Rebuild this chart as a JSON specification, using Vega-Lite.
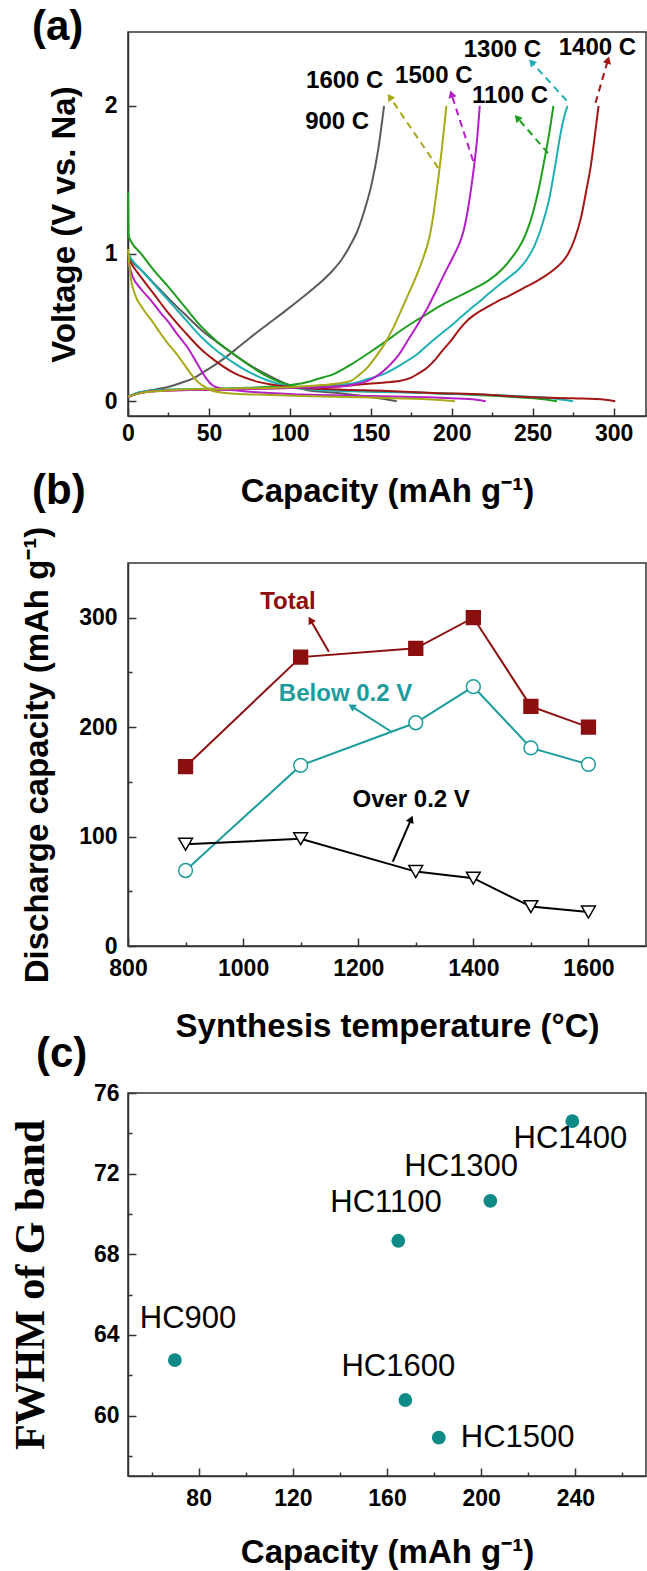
{
  "$schema": "https://vega.github.io/schema/vega-lite/v6.json",
  "background": "white",
  "padding": {"left": 8, "top": 5, "right": 0, "bottom": 5},
  "spacing": 147,
  "bounds": "flush",
  "resolve": {"scale": {"color": "independent", "stroke": "independent", "fill": "independent", "shape": "independent"}},
  "config": {
    "view": {"stroke": "#333333", "strokeWidth": 1.5},
    "font": "Liberation Sans",
    "axis": {"grid": false, "domainColor": "#333333", "domainWidth": 1.5, "tickColor": "#333333", "tickWidth": 1.5, "labelFont": "Liberation Sans", "labelFontSize": 23, "labelFontWeight": "bold", "labelColor": "#000000", "titleFont": "Liberation Sans", "titleFontSize": 33, "titleFontWeight": "bold", "titleColor": "#000000", "labelFlush": false, "labelOverlap": false, "labelBound": false},
    "title": {"font": "Liberation Sans", "fontSize": 42, "fontWeight": "bold", "color": "#000000", "anchor": "start", "frame": "group"}
  },
  "datasets": {
    "curves": [
      {"s":"900","b":"d","x":0,"y":0.98},{"s":"900","b":"d","x":2,"y":0.95},{"s":"900","b":"d","x":8,"y":0.89},{"s":"900","b":"d","x":15,"y":0.81},{"s":"900","b":"d","x":24.7,"y":0.7},{"s":"900","b":"d","x":35,"y":0.59},{"s":"900","b":"d","x":45.3,"y":0.483},{"s":"900","b":"d","x":55,"y":0.4},{"s":"900","b":"d","x":66,"y":0.313},{"s":"900","b":"d","x":76,"y":0.24},{"s":"900","b":"d","x":86.5,"y":0.177},{"s":"900","b":"d","x":100,"y":0.108},{"s":"900","b":"d","x":111,"y":0.074},{"s":"900","b":"d","x":128,"y":0.058},{"s":"900","b":"d","x":148,"y":0.03},{"s":"900","b":"d","x":160,"y":0.012},{"s":"900","b":"d","x":166,"y":0.0},
      {"s":"900","b":"c","x":0,"y":0.028},{"s":"900","b":"c","x":5,"y":0.05},{"s":"900","b":"c","x":12,"y":0.07},{"s":"900","b":"c","x":24.7,"y":0.096},{"s":"900","b":"c","x":33,"y":0.125},{"s":"900","b":"c","x":41.2,"y":0.16},{"s":"900","b":"c","x":47,"y":0.2},{"s":"900","b":"c","x":53.5,"y":0.244},{"s":"900","b":"c","x":60,"y":0.295},{"s":"900","b":"c","x":66,"y":0.346},{"s":"900","b":"c","x":76,"y":0.435},{"s":"900","b":"c","x":86.5,"y":0.523},{"s":"900","b":"c","x":97,"y":0.61},{"s":"900","b":"c","x":107.1,"y":0.697},{"s":"900","b":"c","x":119.5,"y":0.81},{"s":"900","b":"c","x":126,"y":0.88},{"s":"900","b":"c","x":131.9,"y":0.958},{"s":"900","b":"c","x":137,"y":1.05},{"s":"900","b":"c","x":141.2,"y":1.139},{"s":"900","b":"c","x":146,"y":1.29},{"s":"900","b":"c","x":150.5,"y":1.47},{"s":"900","b":"c","x":154.5,"y":1.7},{"s":"900","b":"c","x":158.2,"y":2.0},
      {"s":"1100","b":"d","x":0,"y":1.42},{"s":"1100","b":"d","x":0.4,"y":1.12},{"s":"1100","b":"d","x":2,"y":1.08},{"s":"1100","b":"d","x":8,"y":1.0},{"s":"1100","b":"d","x":15,"y":0.9},{"s":"1100","b":"d","x":24.7,"y":0.777},{"s":"1100","b":"d","x":35,"y":0.64},{"s":"1100","b":"d","x":45.3,"y":0.505},{"s":"1100","b":"d","x":55,"y":0.405},{"s":"1100","b":"d","x":66,"y":0.313},{"s":"1100","b":"d","x":76,"y":0.235},{"s":"1100","b":"d","x":86.5,"y":0.165},{"s":"1100","b":"d","x":100,"y":0.108},{"s":"1100","b":"d","x":110,"y":0.09},{"s":"1100","b":"d","x":128,"y":0.074},{"s":"1100","b":"d","x":169,"y":0.062},{"s":"1100","b":"d","x":210,"y":0.045},{"s":"1100","b":"d","x":236,"y":0.03},{"s":"1100","b":"d","x":255,"y":0.015},{"s":"1100","b":"d","x":265,"y":0.0},
      {"s":"1100","b":"c","x":0,"y":0.03},{"s":"1100","b":"c","x":4,"y":0.05},{"s":"1100","b":"c","x":10,"y":0.065},{"s":"1100","b":"c","x":20,"y":0.075},{"s":"1100","b":"c","x":30,"y":0.08},{"s":"1100","b":"c","x":50,"y":0.085},{"s":"1100","b":"c","x":70,"y":0.09},{"s":"1100","b":"c","x":90,"y":0.1},{"s":"1100","b":"c","x":100,"y":0.11},{"s":"1100","b":"c","x":107,"y":0.12},{"s":"1100","b":"c","x":117,"y":0.15},{"s":"1100","b":"c","x":127.7,"y":0.187},{"s":"1100","b":"c","x":138,"y":0.25},{"s":"1100","b":"c","x":148.3,"y":0.323},{"s":"1100","b":"c","x":158.6,"y":0.4},{"s":"1100","b":"c","x":169,"y":0.482},{"s":"1100","b":"c","x":177,"y":0.54},{"s":"1100","b":"c","x":185.4,"y":0.595},{"s":"1100","b":"c","x":192,"y":0.64},{"s":"1100","b":"c","x":199.8,"y":0.686},{"s":"1100","b":"c","x":208,"y":0.73},{"s":"1100","b":"c","x":216.3,"y":0.777},{"s":"1100","b":"c","x":223,"y":0.82},{"s":"1100","b":"c","x":230.8,"y":0.89},{"s":"1100","b":"c","x":237,"y":0.97},{"s":"1100","b":"c","x":243.1,"y":1.071},{"s":"1100","b":"c","x":246,"y":1.14},{"s":"1100","b":"c","x":250,"y":1.27},{"s":"1100","b":"c","x":254,"y":1.45},{"s":"1100","b":"c","x":257,"y":1.62},{"s":"1100","b":"c","x":260,"y":1.8},{"s":"1100","b":"c","x":262.8,"y":2.0},
      {"s":"1300","b":"d","x":0,"y":1.0},{"s":"1300","b":"d","x":2,"y":0.965},{"s":"1300","b":"d","x":8,"y":0.89},{"s":"1300","b":"d","x":15,"y":0.805},{"s":"1300","b":"d","x":24.7,"y":0.686},{"s":"1300","b":"d","x":35,"y":0.56},{"s":"1300","b":"d","x":45.3,"y":0.435},{"s":"1300","b":"d","x":55,"y":0.34},{"s":"1300","b":"d","x":66,"y":0.255},{"s":"1300","b":"d","x":76,"y":0.19},{"s":"1300","b":"d","x":86.5,"y":0.14},{"s":"1300","b":"d","x":100,"y":0.097},{"s":"1300","b":"d","x":120,"y":0.075},{"s":"1300","b":"d","x":150,"y":0.065},{"s":"1300","b":"d","x":200,"y":0.05},{"s":"1300","b":"d","x":240,"y":0.035},{"s":"1300","b":"d","x":262,"y":0.02},{"s":"1300","b":"d","x":275,"y":0.0},
      {"s":"1300","b":"c","x":0,"y":0.03},{"s":"1300","b":"c","x":4,"y":0.05},{"s":"1300","b":"c","x":10,"y":0.065},{"s":"1300","b":"c","x":20,"y":0.075},{"s":"1300","b":"c","x":30,"y":0.08},{"s":"1300","b":"c","x":60,"y":0.085},{"s":"1300","b":"c","x":100,"y":0.095},{"s":"1300","b":"c","x":120,"y":0.105},{"s":"1300","b":"c","x":138,"y":0.12},{"s":"1300","b":"c","x":148,"y":0.15},{"s":"1300","b":"c","x":158.6,"y":0.187},{"s":"1300","b":"c","x":169,"y":0.25},{"s":"1300","b":"c","x":179.2,"y":0.323},{"s":"1300","b":"c","x":186,"y":0.39},{"s":"1300","b":"c","x":193.7,"y":0.46},{"s":"1300","b":"c","x":200,"y":0.515},{"s":"1300","b":"c","x":206,"y":0.573},{"s":"1300","b":"c","x":212,"y":0.63},{"s":"1300","b":"c","x":218.4,"y":0.686},{"s":"1300","b":"c","x":224,"y":0.74},{"s":"1300","b":"c","x":230.8,"y":0.8},{"s":"1300","b":"c","x":236,"y":0.845},{"s":"1300","b":"c","x":241.1,"y":0.89},{"s":"1300","b":"c","x":246.2,"y":0.958},{"s":"1300","b":"c","x":251,"y":1.05},{"s":"1300","b":"c","x":256,"y":1.2},{"s":"1300","b":"c","x":260,"y":1.36},{"s":"1300","b":"c","x":264,"y":1.6},{"s":"1300","b":"c","x":267,"y":1.8},{"s":"1300","b":"c","x":269.3,"y":1.92},{"s":"1300","b":"c","x":271.5,"y":2.0},
      {"s":"1400","b":"d","x":0,"y":0.96},{"s":"1400","b":"d","x":2,"y":0.93},{"s":"1400","b":"d","x":8,"y":0.84},{"s":"1400","b":"d","x":15,"y":0.74},{"s":"1400","b":"d","x":24.7,"y":0.6},{"s":"1400","b":"d","x":35,"y":0.47},{"s":"1400","b":"d","x":45.3,"y":0.35},{"s":"1400","b":"d","x":55,"y":0.265},{"s":"1400","b":"d","x":66,"y":0.188},{"s":"1400","b":"d","x":80.4,"y":0.131},{"s":"1400","b":"d","x":100,"y":0.097},{"s":"1400","b":"d","x":130,"y":0.08},{"s":"1400","b":"d","x":160,"y":0.07},{"s":"1400","b":"d","x":189,"y":0.056},{"s":"1400","b":"d","x":220,"y":0.045},{"s":"1400","b":"d","x":243,"y":0.03},{"s":"1400","b":"d","x":275,"y":0.02},{"s":"1400","b":"d","x":295,"y":0.01},{"s":"1400","b":"d","x":301,"y":0.0},
      {"s":"1400","b":"c","x":0,"y":0.03},{"s":"1400","b":"c","x":4,"y":0.045},{"s":"1400","b":"c","x":10,"y":0.06},{"s":"1400","b":"c","x":20,"y":0.07},{"s":"1400","b":"c","x":30,"y":0.075},{"s":"1400","b":"c","x":60,"y":0.08},{"s":"1400","b":"c","x":100,"y":0.09},{"s":"1400","b":"c","x":130,"y":0.1},{"s":"1400","b":"c","x":148.3,"y":0.119},{"s":"1400","b":"c","x":160,"y":0.128},{"s":"1400","b":"c","x":169,"y":0.14},{"s":"1400","b":"c","x":175,"y":0.16},{"s":"1400","b":"c","x":179.2,"y":0.187},{"s":"1400","b":"c","x":184,"y":0.22},{"s":"1400","b":"c","x":189.5,"y":0.278},{"s":"1400","b":"c","x":194,"y":0.34},{"s":"1400","b":"c","x":199.8,"y":0.414},{"s":"1400","b":"c","x":205,"y":0.49},{"s":"1400","b":"c","x":210,"y":0.55},{"s":"1400","b":"c","x":216,"y":0.6},{"s":"1400","b":"c","x":222.4,"y":0.64},{"s":"1400","b":"c","x":228,"y":0.675},{"s":"1400","b":"c","x":234.8,"y":0.71},{"s":"1400","b":"c","x":240,"y":0.74},{"s":"1400","b":"c","x":246.2,"y":0.777},{"s":"1400","b":"c","x":252,"y":0.81},{"s":"1400","b":"c","x":258,"y":0.85},{"s":"1400","b":"c","x":263,"y":0.89},{"s":"1400","b":"c","x":268,"y":0.94},{"s":"1400","b":"c","x":272,"y":1.0},{"s":"1400","b":"c","x":276,"y":1.1},{"s":"1400","b":"c","x":280,"y":1.25},{"s":"1400","b":"c","x":283,"y":1.42},{"s":"1400","b":"c","x":286,"y":1.6},{"s":"1400","b":"c","x":288.3,"y":1.79},{"s":"1400","b":"c","x":290.7,"y":2.0},
      {"s":"1500","b":"d","x":0,"y":0.95},{"s":"1500","b":"d","x":3,"y":0.84},{"s":"1500","b":"d","x":8,"y":0.76},{"s":"1500","b":"d","x":14.4,"y":0.68},{"s":"1500","b":"d","x":20,"y":0.6},{"s":"1500","b":"d","x":24.7,"y":0.54},{"s":"1500","b":"d","x":30,"y":0.46},{"s":"1500","b":"d","x":37,"y":0.36},{"s":"1500","b":"d","x":43,"y":0.25},{"s":"1500","b":"d","x":48,"y":0.16},{"s":"1500","b":"d","x":52,"y":0.11},{"s":"1500","b":"d","x":58,"y":0.085},{"s":"1500","b":"d","x":66,"y":0.074},{"s":"1500","b":"d","x":80,"y":0.06},{"s":"1500","b":"d","x":107,"y":0.045},{"s":"1500","b":"d","x":150,"y":0.035},{"s":"1500","b":"d","x":200,"y":0.02},{"s":"1500","b":"d","x":215,"y":0.01},{"s":"1500","b":"d","x":221,"y":0.0},
      {"s":"1500","b":"c","x":0,"y":0.03},{"s":"1500","b":"c","x":4,"y":0.045},{"s":"1500","b":"c","x":10,"y":0.06},{"s":"1500","b":"c","x":20,"y":0.07},{"s":"1500","b":"c","x":30,"y":0.075},{"s":"1500","b":"c","x":60,"y":0.08},{"s":"1500","b":"c","x":100,"y":0.09},{"s":"1500","b":"c","x":130,"y":0.1},{"s":"1500","b":"c","x":140,"y":0.115},{"s":"1500","b":"c","x":148.3,"y":0.14},{"s":"1500","b":"c","x":155,"y":0.18},{"s":"1500","b":"c","x":160.7,"y":0.233},{"s":"1500","b":"c","x":167,"y":0.31},{"s":"1500","b":"c","x":173,"y":0.414},{"s":"1500","b":"c","x":179,"y":0.52},{"s":"1500","b":"c","x":185.4,"y":0.64},{"s":"1500","b":"c","x":190,"y":0.74},{"s":"1500","b":"c","x":195.7,"y":0.867},{"s":"1500","b":"c","x":200,"y":0.96},{"s":"1500","b":"c","x":204,"y":1.05},{"s":"1500","b":"c","x":207,"y":1.14},{"s":"1500","b":"c","x":210,"y":1.3},{"s":"1500","b":"c","x":212.2,"y":1.46},{"s":"1500","b":"c","x":214,"y":1.61},{"s":"1500","b":"c","x":215.7,"y":1.78},{"s":"1500","b":"c","x":217.3,"y":2.0},
      {"s":"1600","b":"d","x":0,"y":1.03},{"s":"1600","b":"d","x":1.5,"y":0.85},{"s":"1600","b":"d","x":4.1,"y":0.73},{"s":"1600","b":"d","x":9,"y":0.63},{"s":"1600","b":"d","x":14.4,"y":0.55},{"s":"1600","b":"d","x":20,"y":0.46},{"s":"1600","b":"d","x":24.7,"y":0.39},{"s":"1600","b":"d","x":30,"y":0.32},{"s":"1600","b":"d","x":35,"y":0.244},{"s":"1600","b":"d","x":40,"y":0.17},{"s":"1600","b":"d","x":43.2,"y":0.13},{"s":"1600","b":"d","x":47,"y":0.1},{"s":"1600","b":"d","x":51.5,"y":0.073},{"s":"1600","b":"d","x":66,"y":0.05},{"s":"1600","b":"d","x":80,"y":0.045},{"s":"1600","b":"d","x":107,"y":0.035},{"s":"1600","b":"d","x":150,"y":0.025},{"s":"1600","b":"d","x":190,"y":0.01},{"s":"1600","b":"d","x":202,"y":0.0},
      {"s":"1600","b":"c","x":0,"y":0.03},{"s":"1600","b":"c","x":4,"y":0.045},{"s":"1600","b":"c","x":10,"y":0.06},{"s":"1600","b":"c","x":20,"y":0.07},{"s":"1600","b":"c","x":30,"y":0.078},{"s":"1600","b":"c","x":60,"y":0.085},{"s":"1600","b":"c","x":100,"y":0.095},{"s":"1600","b":"c","x":120,"y":0.11},{"s":"1600","b":"c","x":130,"y":0.12},{"s":"1600","b":"c","x":138,"y":0.14},{"s":"1600","b":"c","x":143,"y":0.18},{"s":"1600","b":"c","x":148.3,"y":0.233},{"s":"1600","b":"c","x":153,"y":0.3},{"s":"1600","b":"c","x":158.6,"y":0.39},{"s":"1600","b":"c","x":164,"y":0.5},{"s":"1600","b":"c","x":168.9,"y":0.618},{"s":"1600","b":"c","x":173,"y":0.72},{"s":"1600","b":"c","x":177.1,"y":0.822},{"s":"1600","b":"c","x":180,"y":0.9},{"s":"1600","b":"c","x":183.3,"y":1.0},{"s":"1600","b":"c","x":186,"y":1.1},{"s":"1600","b":"c","x":188.5,"y":1.25},{"s":"1600","b":"c","x":191,"y":1.45},{"s":"1600","b":"c","x":193.8,"y":1.7},{"s":"1600","b":"c","x":196.7,"y":2.0}
    ],
    "arrows_a": [
      {"s":"1600","x":191.6,"y":1.58,"x2":161.7,"y2":2.06},
      {"s":"1500","x":213.2,"y":1.627,"x2":199.8,"y2":2.08},
      {"s":"1100","x":259.5,"y":1.68,"x2":240.4,"y2":1.92},
      {"s":"1300","x":271,"y":2.035,"x2":249.3,"y2":2.296},
      {"s":"1400","x":288.8,"y":2.02,"x2":296.5,"y2":2.31}
    ],
    "labels_a": [
      {"t":"900 C","x":129.2,"y":1.888},
      {"t":"1600 C","x":133.9,"y":2.17},
      {"t":"1500 C","x":188.9,"y":2.205},
      {"t":"1100 C","x":236,"y":2.07},
      {"t":"1300 C","x":231.3,"y":2.375},
      {"t":"1400 C","x":290,"y":2.39}
    ],
    "series_b": [
      {"g":"Total","T":900,"c":164},{"g":"Total","T":1100,"c":264},{"g":"Total","T":1300,"c":272},{"g":"Total","T":1400,"c":300},{"g":"Total","T":1500,"c":219},{"g":"Total","T":1600,"c":200},
      {"g":"Below 0.2 V","T":900,"c":69},{"g":"Below 0.2 V","T":1100,"c":165},{"g":"Below 0.2 V","T":1300,"c":204},{"g":"Below 0.2 V","T":1400,"c":237},{"g":"Below 0.2 V","T":1500,"c":181},{"g":"Below 0.2 V","T":1600,"c":166},
      {"g":"Over 0.2 V","T":900,"c":93},{"g":"Over 0.2 V","T":1100,"c":98},{"g":"Over 0.2 V","T":1300,"c":68},{"g":"Over 0.2 V","T":1400,"c":62},{"g":"Over 0.2 V","T":1500,"c":36},{"g":"Over 0.2 V","T":1600,"c":31}
    ],
    "arrows_b": [
      {"g":"Total","T":1149,"c":269,"T2":1117,"c2":298},
      {"g":"Below 0.2 V","T":1257,"c":196,"T2":1188.5,"c2":219},
      {"g":"Over 0.2 V","T":1260,"c":77,"T2":1292,"c2":116}
    ],
    "labels_b": [
      {"g":"Total","T":1078,"c":314},
      {"g":"Below 0.2 V","T":1178,"c":230},
      {"g":"Over 0.2 V","T":1292,"c":133}
    ],
    "pts_c": [
      {"lab":"HC900","cap":69.9,"fw":62.75},
      {"lab":"HC1100","cap":164.8,"fw":68.67},
      {"lab":"HC1300","cap":203.9,"fw":70.65},
      {"lab":"HC1400","cap":238.7,"fw":74.6},
      {"lab":"HC1500","cap":182,"fw":58.9},
      {"lab":"HC1600","cap":167.8,"fw":60.77}
    ],
    "labels_c": [
      {"lab":"HC900","cap":75.5,"fw":64.78},
      {"lab":"HC1100","cap":159.6,"fw":70.55},
      {"lab":"HC1300","cap":191.5,"fw":72.34},
      {"lab":"HC1400","cap":237.9,"fw":73.7},
      {"lab":"HC1500","cap":215.5,"fw":58.9},
      {"lab":"HC1600","cap":164.8,"fw":62.4}
    ]
  },
  "vconcat": [
    {
      "width": 518, "height": 384,
      "title": {"text": "(a)", "dx": -96, "offset": -17},
      "layer": [
        {
          "data": {"name": "curves"},
          "mark": {"type": "line", "strokeWidth": 2, "interpolate": "monotone"},
          "encoding": {
            "x": {"field": "x", "type": "quantitative", "scale": {"domain": [0, 320], "nice": false, "zero": false},
                  "axis": {"values": [0,25,50,75,100,125,150,175,200,225,250,275,300], "labelExpr": "datum.value % 50 === 0 ? datum.label : ''", "tickSize": {"condition": {"test": "datum.value % 50 === 0", "value": -8}, "value": -4}, "labelPadding": 14, "title": "Capacity (mAh g⁻¹)", "titlePadding": 26}},
            "y": {"field": "y", "type": "quantitative", "scale": {"domain": [-0.1, 2.5], "nice": false, "zero": false},
                  "axis": {"values": [0,0.5,1,1.5,2], "format": "d", "labelExpr": "datum.value % 1 === 0 ? datum.label : ''", "tickSize": {"condition": {"test": "datum.value % 1 === 0", "value": -8}, "value": -4}, "labelPadding": 19, "title": "Voltage (V vs. Na)", "titlePadding": 23}},
            "color": {"field": "s", "type": "nominal", "scale": {"domain": ["900","1100","1300","1400","1500","1600"], "range": ["#5b5b5b","#1e9e1e","#1fb0b4","#a31616","#b51fc8","#a8a818"]}, "legend": null},
            "detail": {"field": "b"}
          }
        },
        {
          "data": {"name": "arrows_a"},
          "mark": {"type": "rule", "strokeWidth": 2, "strokeDash": [7, 5]},
          "encoding": {
            "x": {"field": "x", "type": "quantitative"},
            "y": {"field": "y", "type": "quantitative"},
            "x2": {"field": "x2"},
            "y2": {"field": "y2"},
            "color": {"field": "s", "type": "nominal"}
          }
        },
        {
          "data": {"name": "arrows_a"},
          "transform": [{"calculate": "atan2((datum.x2 - datum.x) * 518 / 320, (datum.y2 - datum.y) * 384 / 2.6) * 180 / PI", "as": "ang"}],
          "mark": {"type": "point", "shape": "triangle-up", "filled": true, "size": 70, "opacity": 1},
          "encoding": {
            "x": {"field": "x2", "type": "quantitative"},
            "y": {"field": "y2", "type": "quantitative"},
            "color": {"field": "s", "type": "nominal"},
            "angle": {"field": "ang", "type": "quantitative", "scale": null}
          }
        },
        {
          "data": {"name": "labels_a"},
          "mark": {"type": "text", "fontSize": 24, "fontWeight": "bold", "font": "Liberation Sans", "color": "#000000"},
          "encoding": {
            "x": {"field": "x", "type": "quantitative"},
            "y": {"field": "y", "type": "quantitative"},
            "text": {"field": "t"}
          }
        }
      ]
    },
    {
      "width": 518, "height": 383,
      "title": {"text": "(b)", "dx": -96, "offset": 13},
      "layer": [
        {
          "data": {"name": "series_b"},
          "mark": {"type": "line", "strokeWidth": 2},
          "encoding": {
            "x": {"field": "T", "type": "quantitative", "scale": {"domain": [800, 1700], "nice": false, "zero": false},
                  "axis": {"values": [800,900,1000,1100,1200,1300,1400,1500,1600], "format": "d", "labelExpr": "datum.value % 200 === 0 ? datum.label : ''", "tickSize": {"condition": {"test": "datum.value % 200 === 0", "value": -8}, "value": -4}, "labelPadding": 19, "title": "Synthesis temperature (°C)", "titlePadding": 26}},
            "y": {"field": "c", "type": "quantitative", "scale": {"domain": [0, 350], "nice": false, "zero": false},
                  "axis": {"values": [0,50,100,150,200,250,300], "labelExpr": "datum.value % 100 === 0 ? datum.label : ''", "tickSize": {"condition": {"test": "datum.value % 100 === 0", "value": -8}, "value": -4}, "labelPadding": 19, "title": "Discharge capacity (mAh g⁻¹)", "titlePadding": 24}},
            "stroke": {"field": "g", "type": "nominal", "scale": {"domain": ["Total","Below 0.2 V","Over 0.2 V"], "range": ["#8c0f0f","#1c9c9c","#000000"]}, "legend": null}
          }
        },
        {
          "data": {"name": "series_b"},
          "mark": {"type": "point", "filled": true, "size": 190, "strokeWidth": 1.5, "opacity": 1},
          "encoding": {
            "x": {"field": "T", "type": "quantitative"},
            "y": {"field": "c", "type": "quantitative"},
            "stroke": {"field": "g", "type": "nominal"},
            "fill": {"field": "g", "type": "nominal", "scale": {"domain": ["Total","Below 0.2 V","Over 0.2 V"], "range": ["#8c0f0f","#ffffff","#ffffff"]}, "legend": null},
            "shape": {"field": "g", "type": "nominal", "scale": {"domain": ["Total","Below 0.2 V","Over 0.2 V"], "range": ["square","circle","triangle-down"]}, "legend": null}
          }
        },
        {
          "data": {"name": "arrows_b"},
          "mark": {"type": "rule", "strokeWidth": 2},
          "encoding": {
            "x": {"field": "T", "type": "quantitative"},
            "y": {"field": "c", "type": "quantitative"},
            "x2": {"field": "T2"},
            "y2": {"field": "c2"},
            "stroke": {"field": "g", "type": "nominal"}
          }
        },
        {
          "data": {"name": "arrows_b"},
          "transform": [{"calculate": "atan2((datum.T2 - datum.T) * 518 / 900, (datum.c2 - datum.c) * 383 / 350) * 180 / PI", "as": "ang"}],
          "mark": {"type": "point", "shape": "triangle-up", "filled": true, "size": 70, "opacity": 1},
          "encoding": {
            "x": {"field": "T2", "type": "quantitative"},
            "y": {"field": "c2", "type": "quantitative"},
            "color": {"field": "g", "type": "nominal", "scale": {"domain": ["Total","Below 0.2 V","Over 0.2 V"], "range": ["#8c0f0f","#1c9c9c","#000000"]}, "legend": null},
            "angle": {"field": "ang", "type": "quantitative", "scale": null}
          }
        },
        {
          "data": {"name": "labels_b"},
          "mark": {"type": "text", "fontSize": 24, "fontWeight": "bold", "font": "Liberation Sans"},
          "encoding": {
            "x": {"field": "T", "type": "quantitative"},
            "y": {"field": "c", "type": "quantitative"},
            "text": {"field": "g"},
            "color": {"field": "g", "type": "nominal"}
          }
        }
      ]
    },
    {
      "width": 518, "height": 383,
      "title": {"text": "(c)", "dx": -92, "offset": 6},
      "layer": [
        {
          "data": {"name": "pts_c"},
          "mark": {"type": "point", "filled": true, "size": 190, "color": "#0f8a86", "opacity": 1},
          "encoding": {
            "x": {"field": "cap", "type": "quantitative", "scale": {"domain": [50, 270], "nice": false, "zero": false},
                  "axis": {"values": [60,80,100,120,140,160,180,200,220,240,260], "labelExpr": "datum.value % 40 === 0 ? datum.label : ''", "tickSize": {"condition": {"test": "datum.value % 40 === 0", "value": -8}, "value": -4}, "labelPadding": 19, "title": "Capacity (mAh g⁻¹)", "titlePadding": 22}},
            "y": {"field": "fw", "type": "quantitative", "scale": {"domain": [57, 76], "nice": false, "zero": false},
                  "axis": {"values": [58,60,62,64,66,68,70,72,74,76], "labelExpr": "datum.value % 4 === 0 ? datum.label : ''", "tickSize": {"condition": {"test": "datum.value % 4 === 0", "value": -8}, "value": -4}, "labelPadding": 17, "title": "FWHM of G band", "titleFont": "Liberation Serif", "titleFontSize": 42, "titlePadding": 41}}
          }
        },
        {
          "data": {"name": "labels_c"},
          "mark": {"type": "text", "fontSize": 31, "font": "Liberation Sans", "color": "#000000"},
          "encoding": {
            "x": {"field": "cap", "type": "quantitative"},
            "y": {"field": "fw", "type": "quantitative"},
            "text": {"field": "lab"}
          }
        }
      ]
    }
  ]
}
